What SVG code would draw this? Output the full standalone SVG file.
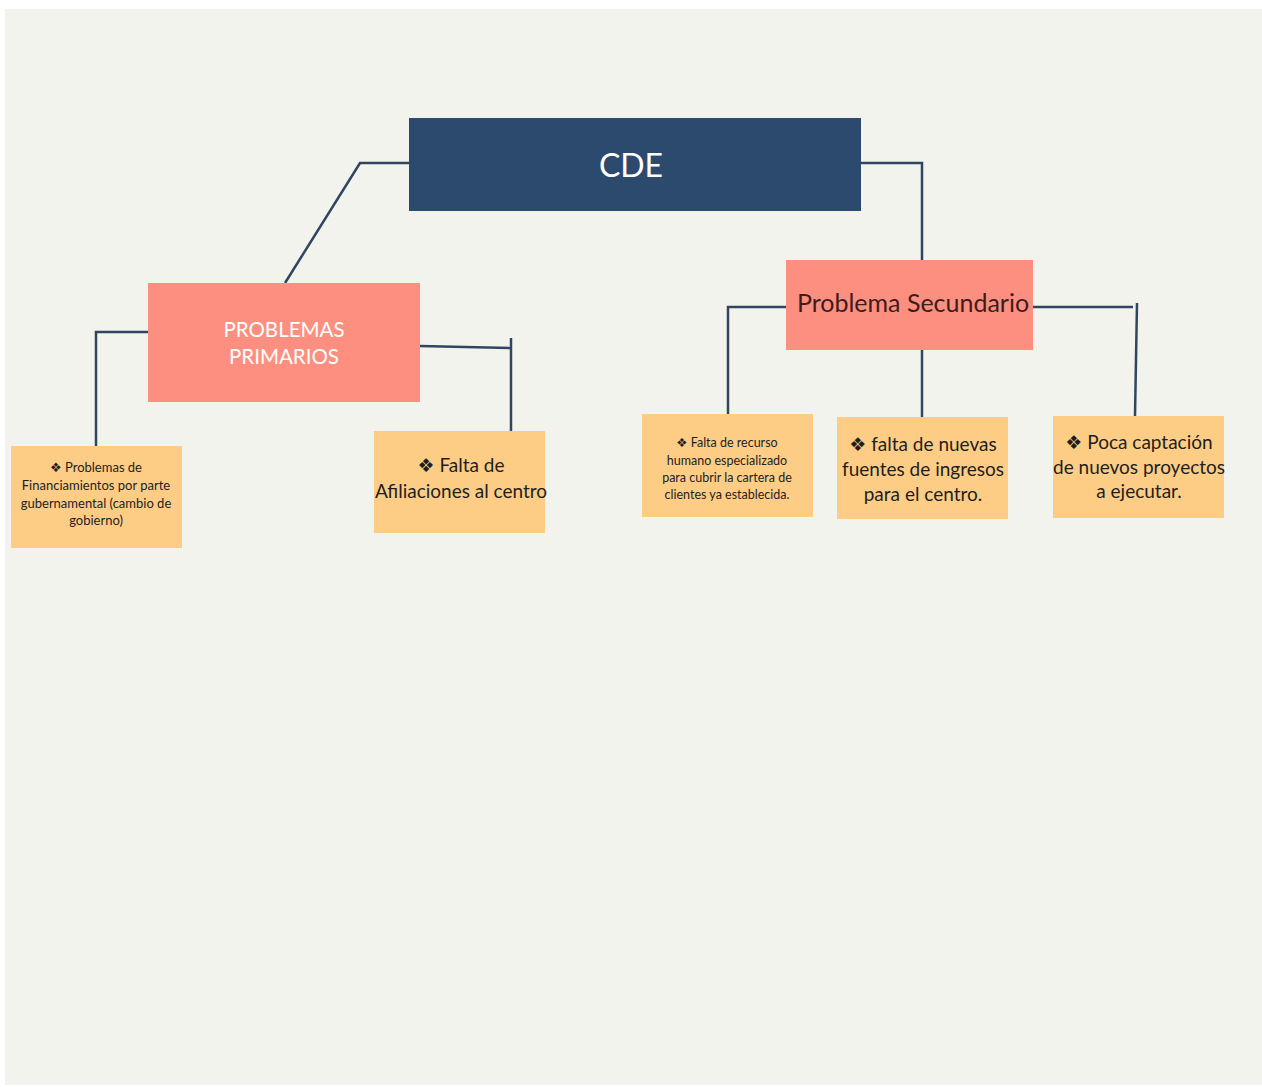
<svg xmlns="http://www.w3.org/2000/svg" width="1262" height="1087" viewBox="0 0 1262 1087">
<style>
.conn{fill:none;stroke:#2f4560;stroke-width:2.5;stroke-linecap:butt}
.t{font-family:Lato,"DejaVu Sans",sans-serif;text-anchor:middle}
.leaf{fill:#fdcd86}
.mid{fill:#fd8f80}
.dark{fill:#1e1e1e}
</style>
<rect x="0" y="0" width="1262" height="1087" fill="#ffffff"/>
<rect x="5" y="9" width="1257" height="1076" fill="#f3f3ee"/>
<g id="connectors">
<polyline class="conn" points="409,163 360,163 285,283"/>
<polyline class="conn" points="861,163 922,163 922,260"/>
<polyline class="conn" points="148,332 96,332 96,446"/>
<polyline class="conn" points="420,346 511,348"/>
<line class="conn" x1="511" y1="338" x2="511" y2="431"/>
<polyline class="conn" points="786,307 728,307 728,414"/>
<line class="conn" x1="922" y1="350" x2="922" y2="417"/>
<line class="conn" x1="1033" y1="307" x2="1133" y2="307"/>
<line class="conn" x1="1137" y1="303" x2="1135" y2="416"/>
</g>
<g id="cde">
<rect x="409" y="118" width="452" height="93" fill="#2b4a6e"/>
<text class="t" x="631" y="177" font-size="32" fill="#ffffff">CDE</text>
</g>
<g id="primarios">
<rect class="mid" x="148" y="283" width="272" height="119"/>
<text class="t" x="284" y="337" font-size="20.5" fill="#ffffff">PROBLEMAS</text>
<text class="t" x="284" y="364" font-size="20.5" fill="#ffffff">PRIMARIOS</text>
</g>
<g id="secundario">
<rect class="mid" x="786" y="260" width="247" height="90"/>
<text class="t" x="913" y="312" font-size="25" fill="#3e1c1c">Problema Secundario</text>
</g>
<g id="financiamientos">
<rect class="leaf" x="11" y="446" width="171" height="102"/>
<text class="t dark" font-size="13"><tspan x="96" y="472">❖ Problemas de</tspan><tspan x="96" y="490">Financiamientos por parte</tspan><tspan x="96" y="508">gubernamental (cambio de</tspan><tspan x="96" y="525">gobierno)</tspan></text>
</g>
<g id="afiliaciones">
<rect class="leaf" x="374" y="431" width="171" height="102"/>
<text class="t dark" font-size="19"><tspan x="461" y="472">❖ Falta de</tspan><tspan x="461" y="498">Afiliaciones al centro</tspan></text>
</g>
<g id="recurso">
<rect class="leaf" x="642" y="414" width="171" height="103"/>
<text class="t dark" font-size="12.5"><tspan x="727" y="447">❖ Falta de recurso</tspan><tspan x="727" y="465">humano especializado</tspan><tspan x="727" y="482">para cubrir la cartera de</tspan><tspan x="727" y="499">clientes ya establecida.</tspan></text>
</g>
<g id="ingresos">
<rect class="leaf" x="837" y="417" width="171" height="102"/>
<text class="t dark" font-size="19"><tspan x="923" y="451">❖ falta de nuevas</tspan><tspan x="923" y="476">fuentes de ingresos</tspan><tspan x="923" y="501">para el centro.</tspan></text>
</g>
<g id="proyectos">
<rect class="leaf" x="1053" y="416" width="171" height="102"/>
<text class="t dark" font-size="19"><tspan x="1139" y="449">❖ Poca captación</tspan><tspan x="1139" y="474">de nuevos proyectos</tspan><tspan x="1139" y="498">a ejecutar.</tspan></text>
</g>
</svg>
